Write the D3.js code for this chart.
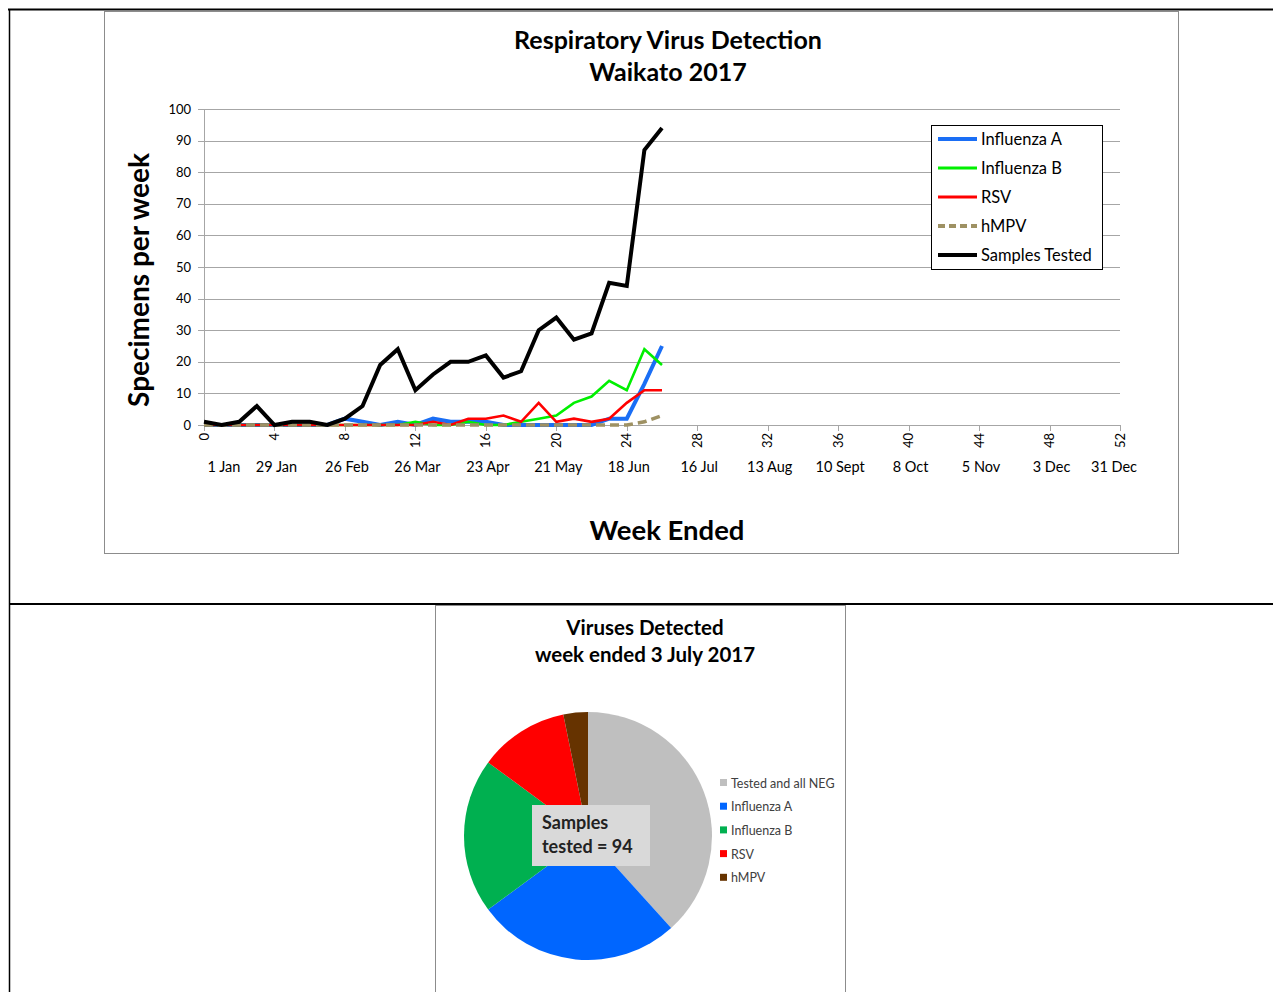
<!DOCTYPE html>
<html>
<head>
<meta charset="utf-8">
<script src="https://cdn.jsdelivr.net/npm/d3@7"></script>
<style>
  body { margin: 0; background: #fff; }
  svg { display: block; font-family: Lato, "Open Sans", sans-serif; }
</style>
</head>
<body>
<svg id="chart" width="1273" height="992"></svg>
<script>
// ---- data ----
const weeks = [0,1,2,3,4,5,6,7,8,9,10,11,12,13,14,15,16,17,18,19,20,21,22,23,24,25,26];
const influenzaA = [0,0,0,0,0,0,0,0,2,1,0,1,0,2,1,1,1,0,0,0,0,0,0,2,2,13,25];
const influenzaB = [0,0,0,0,0,0,0,0,0,0,0,0,1,0,0,1,0,0,1,2,3,7,9,14,11,24,19];
const rsv        = [0,0,0,0,0,0,0,0,0,0,0,0,0,1,0,2,2,3,1,7,1,2,1,2,7,11,11];
const hmpv       = [0,0,0,0,0,0,0,0,0,0,0,0,0,0,0,0,0,0,0,0,0,0,0,0,0,1,3];
const tested     = [1,0,1,6,0,1,1,0,2,6,19,24,11,16,20,20,22,15,17,30,34,27,29,45,44,87,94];

const weekTicks = [0,4,8,12,16,20,24,28,32,36,40,44,48,52];
const dateLabels = ["1 Jan","29 Jan","26 Feb","26 Mar","23 Apr","21 May","18 Jun","16 Jul","13 Aug","10 Sept","8 Oct","5 Nov","3 Dec","31 Dec"];
const yTicks = [0,10,20,30,40,50,60,70,80,90,100];

const pieCategories = ["Tested and all NEG","Influenza A","Influenza B","RSV","hMPV"];
const pieValues = [36,25,19,11,3];
const samplesTested = 94;

// ---- series styling ----
const series = [
  { name: "Influenza A", values: influenzaA, color: "#1a6ef5", width: 4, dash: null },
  { name: "Influenza B", values: influenzaB, color: "#00f000", width: 2.6, dash: null },
  { name: "RSV", values: rsv, color: "#ff0000", width: 2.6, dash: null },
  { name: "hMPV", values: hmpv, color: "#9e9163", width: 3.6, dash: "9,5" },
  { name: "Samples Tested", values: tested, color: "#000", width: 4, dash: null }
];

const svg = d3.select("#chart");

// outer table lines
svg.append("line").attr("x1", 8).attr("x2", 1273).attr("y1", 9.5).attr("y2", 9.5).attr("stroke", "#000").attr("stroke-width", 2);
svg.append("line").attr("x1", 9.5).attr("x2", 9.5).attr("y1", 9).attr("y2", 992).attr("stroke", "#000").attr("stroke-width", 1.5);
svg.append("line").attr("x1", 9).attr("x2", 1273).attr("y1", 604).attr("y2", 604).attr("stroke", "#000").attr("stroke-width", 2);

// line chart frame
svg.append("rect").attr("x", 104.5).attr("y", 11.5).attr("width", 1074).attr("height", 542)
  .attr("fill", "#fff").attr("stroke", "#8c8c8c");

const x = d3.scaleLinear().domain([0, 52]).range([204, 1120]);
const y = d3.scaleLinear().domain([0, 100]).range([425, 109]);

// gridlines
svg.append("g").selectAll("line").data(yTicks).join("line")
  .attr("x1", 198).attr("x2", 1120)
  .attr("y1", d => Math.round(y(d)) + 0.5).attr("y2", d => Math.round(y(d)) + 0.5)
  .attr("stroke", "#a6a6a6").attr("stroke-width", 1);
svg.append("line").attr("x1", 204.5).attr("x2", 204.5).attr("y1", 109).attr("y2", 425)
  .attr("stroke", "#a6a6a6");

// y axis labels
svg.append("g").selectAll("text").data(yTicks).join("text")
  .attr("x", 191).attr("y", d => y(d) + 4.5)
  .attr("text-anchor", "end").attr("font-size", 13).attr("fill", "#000")
  .text(d => d);

// x axis ticks
svg.append("g").selectAll("line").data(weekTicks).join("line")
  .attr("x1", d => Math.round(x(d)) + 0.5).attr("x2", d => Math.round(x(d)) + 0.5)
  .attr("y1", 425).attr("y2", 431).attr("stroke", "#a6a6a6");
svg.append("g").selectAll("text").data(weekTicks).join("text")
  .attr("transform", d => `translate(${x(d) + 4.5},433) rotate(-90)`)
  .attr("text-anchor", "end").attr("font-size", 13)
  .text(d => d);

// date labels under the ticks
svg.append("g").selectAll("text").data(dateLabels).join("text")
  .attr("x", (d, i) => x(weekTicks[i]) + (i === 0 ? 20 : i === dateLabels.length - 1 ? -6 : 2))
  .attr("y", 472).attr("text-anchor", "middle").attr("font-size", 14.5)
  .text(d => d);

// lines
const line = d3.line().x((d, i) => x(weeks[i])).y(d => y(d));
svg.append("g").selectAll("path").data(series).join("path")
  .attr("d", d => line(d.values))
  .attr("fill", "none")
  .attr("stroke", d => d.color)
  .attr("stroke-width", d => d.width)
  .attr("stroke-dasharray", d => d.dash)
  .attr("stroke-linejoin", "miter");

// titles
svg.append("text").attr("x", 668).attr("y", 49).attr("text-anchor", "middle")
  .attr("font-size", 25).attr("font-weight", "bold").text("Respiratory Virus Detection");
svg.append("text").attr("x", 668).attr("y", 81).attr("text-anchor", "middle")
  .attr("font-size", 25).attr("font-weight", "bold").text("Waikato 2017");
svg.append("text").attr("x", 667).attr("y", 540).attr("text-anchor", "middle")
  .attr("font-size", 27.5).attr("font-weight", "bold").text("Week Ended");
svg.append("text").attr("transform", "translate(149,280) rotate(-90)").attr("text-anchor", "middle")
  .attr("font-size", 28).attr("font-weight", "bold").text("Specimens per week");

// legend
const legend = svg.append("g");
legend.append("rect").attr("x", 931.5).attr("y", 125.5).attr("width", 171).attr("height", 144)
  .attr("fill", "#fff").attr("stroke", "#000");
const li = legend.selectAll("g").data(series).join("g")
  .attr("transform", (d, i) => `translate(0,${139 + i * 29})`);
li.append("line").attr("x1", 938).attr("x2", 977).attr("y1", 0).attr("y2", 0)
  .attr("stroke", d => d.color).attr("stroke-width", d => d.name === "Influenza A" || d.name === "Samples Tested" || d.name === "hMPV" ? 4 : 3)
  .attr("stroke-dasharray", d => d.dash ? "7,4" : null);
li.append("text").attr("x", 981).attr("y", 5.5).attr("font-size", 16.5).text(d => d.name);

// ---- pie chart ----
svg.append("rect").attr("x", 435.5).attr("y", 605.5).attr("width", 410).attr("height", 390)
  .attr("fill", "#fff").attr("stroke", "#8c8c8c");

svg.append("text").attr("x", 645).attr("y", 635).attr("text-anchor", "middle")
  .attr("font-size", 20.5).attr("font-weight", "bold").text("Viruses Detected");
svg.append("text").attr("x", 645).attr("y", 662).attr("text-anchor", "middle")
  .attr("font-size", 20.5).attr("font-weight", "bold").text("week ended 3 July 2017");

const pieColors = d3.scaleOrdinal().domain(pieCategories)
  .range(["#bfbfbf", "#0066ff", "#00b050", "#ff0000", "#663300"]);
const pie = d3.pie().sort(null).value(d => d.value);
const arc = d3.arc().innerRadius(0).outerRadius(124);
const pieData = pieCategories.map((c, i) => ({ name: c, value: pieValues[i] }));

svg.append("g").attr("transform", "translate(588,836)")
  .selectAll("path").data(pie(pieData)).join("path")
  .attr("d", arc).attr("fill", d => pieColors(d.data.name));

// label box
svg.append("rect").attr("x", 532).attr("y", 805).attr("width", 118).attr("height", 61).attr("fill", "#d9d9d9");
svg.append("text").attr("x", 542).attr("y", 829).attr("font-size", 18).attr("font-weight", "bold")
  .attr("fill", "#222").text("Samples");
svg.append("text").attr("x", 542).attr("y", 853).attr("font-size", 18).attr("font-weight", "bold")
  .attr("fill", "#222").text(`tested = ${samplesTested}`);

// pie legend
const pl = svg.append("g").selectAll("g").data(pieCategories).join("g")
  .attr("transform", (d, i) => `translate(720,${783 + i * 23.7})`);
pl.append("rect").attr("x", 0).attr("y", -4).attr("width", 7).attr("height", 7).attr("fill", d => pieColors(d));
pl.append("text").attr("x", 11).attr("y", 4.5).attr("font-size", 12.5).attr("fill", "#404040").text(d => d);
</script>
</body>
</html>
